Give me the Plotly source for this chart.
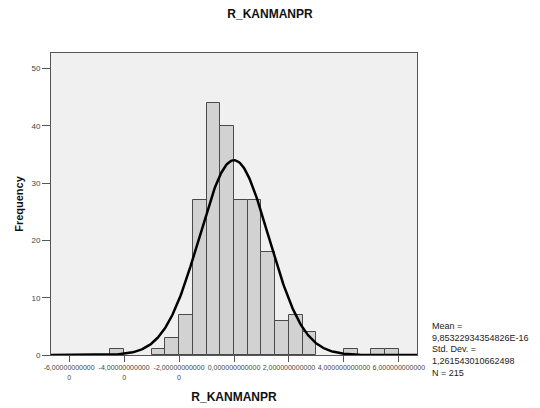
import numpy as np
import plotly.graph_objects as go

# Data
bin_left_edges = [-4.5, -3.0, -2.5, -2.0, -1.5, -1.0, -0.5, 0.0, 0.5, 1.0, 1.5, 2.0, 2.5, 4.0, 5.0, 5.5]
frequencies = [1, 1, 3, 7, 27, 44, 40, 27, 27, 18, 6, 7, 4, 1, 1, 1]
bin_width = 0.5
mean_val = 9.85322934354826e-16
std_val = 1.261543010662498
n_val = 215

x_tick_vals = [-6, -4, -2, 0, 2, 4, 6]
x_tick_text = ["-6,00000000000<br>0", "-4,00000000000<br>0", "-2,00000000000<br>0",
               "0,000000000000", "2,000000000000", "4,000000000000", "6,000000000000"]
y_tick_vals = [0, 10, 20, 30, 40, 50]

x_range = [-6.66, 6.66]
y_range = [0, 52.7]

centers = [e + bin_width / 2 for e in bin_left_edges]

# fitted normal curve (as SPSS draws it from mean / std dev / N)
xc = np.linspace(x_range[0], x_range[1], 400)
yc = n_val * bin_width * np.exp(-0.5 * ((xc - mean_val) / std_val) ** 2) / (std_val * np.sqrt(2 * np.pi))

fig = go.Figure()
fig.add_trace(go.Bar(
    x=centers, y=frequencies, width=bin_width,
    marker=dict(color="#d2d2d2", line=dict(color="#4a4a4a", width=1)),
    showlegend=False, hoverinfo="x+y",
))
fig.add_trace(go.Scatter(
    x=xc, y=yc, mode="lines", line=dict(color="black", width=2.5),
    showlegend=False, hoverinfo="skip",
))

font_family = "Liberation Sans, Arial, sans-serif"

# page body has an 8px default margin, so the figure is sized/margined to compensate
fig.update_layout(
    width=532, height=400,
    margin=dict(l=43, r=123, t=45, b=53, autoexpand=False),
    paper_bgcolor="white",
    plot_bgcolor="#f0f0f0",
    font=dict(family=font_family, color="#222222"),
    title=dict(text="<b>R_KANMANPR</b>", x=(270 - 8) / 532, xanchor="center", y=0.985, yanchor="middle",
               font=dict(size=12, color="#111111", family=font_family)),
    bargap=0,
    xaxis=dict(
        automargin=False,
        range=x_range, tickvals=x_tick_vals, ticktext=x_tick_text,
        tickfont=dict(size=7, color="#444444"),
        ticks="outside", ticklen=6, tickcolor="#555555", tickwidth=1,
        showline=True, linecolor="#555555", linewidth=1, mirror=True,
        showgrid=False, zeroline=False,
        title=dict(text="<b>R_KANMANPR</b>", font=dict(size=12, color="#111111"), standoff=13),
    ),
    yaxis=dict(
        automargin=False,
        range=y_range, tickvals=y_tick_vals,
        tickfont=dict(size=8, color="#444444"),
        ticks="outside", ticklen=8, tickcolor="#555555", tickwidth=1,
        showline=True, linecolor="#555555", linewidth=1, mirror=True,
        showgrid=False, zeroline=False,
        title=dict(text="<b>Frequency</b>", font=dict(size=11, color="#111111"), standoff=5),
    ),
)

stats_text = ("Mean =<br>9,85322934354826E-16<br>Std. Dev. =<br>1,261543010662498<br>N = " + str(n_val))
fig.add_annotation(
    xref="paper", yref="paper", x=1.036, y=0.12, xanchor="left", yanchor="top",
    text=stats_text, showarrow=False, align="left",
    font=dict(size=9, color="#222222", family=font_family),
)

fig.write_html("out.html")
